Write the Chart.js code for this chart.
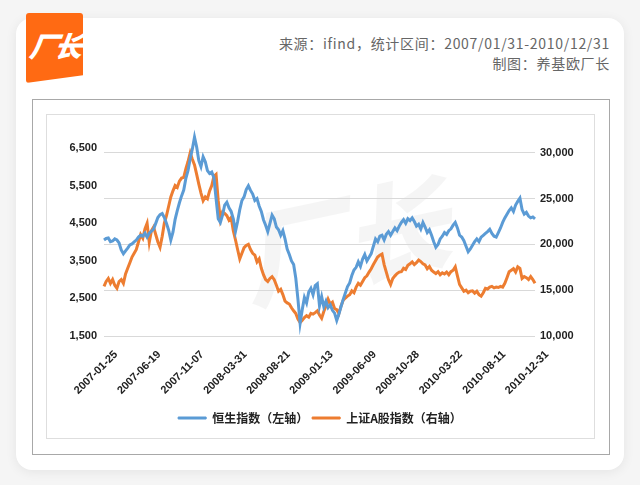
<!DOCTYPE html>
<html>
<head>
<meta charset="utf-8">
<script src="https://cdn.jsdelivr.net/npm/chart.js@4.4.0/dist/chart.umd.min.js"></script>
<style>
  body { margin: 0; width: 640px; height: 485px; background: #f5f5f5; position: relative; overflow: hidden; font-family: "Noto Sans CJK SC", sans-serif; }
  .card { position: absolute; left: 16px; top: 18px; width: 608px; height: 452px; background: #fff; border-radius: 16px; box-shadow: 0 2px 12px rgba(0,0,0,0.07); }
  .logo { position: absolute; left: 26px; top: 13px; width: 57px; height: 70px; background: #ff6a13; clip-path: polygon(0 0, 100% 0, 100% 89%, 0 100%); border-radius: 3px; }
  .logo span { position: absolute; left: 4px; top: 12px; color: #fff; font-size: 28px; font-weight: 900; font-style: italic; letter-spacing: -3px; transform: skewX(-8deg); }
  .src { position: absolute; right: 30px; top: 33px; text-align: right; color: #666; font-size: 14px; line-height: 20px; letter-spacing: 0.7px; }
  .outer { position: absolute; left: 32px; top: 99px; width: 576px; height: 354px; border: 1px solid #a8a8a8; }
  .inner { position: absolute; left: 46px; top: 114px; width: 547px; height: 323px; border: 1px solid #dedede; }
  .mark { position: absolute; left: 238px; top: 160px; font-size: 105px; font-weight: 900; font-style: italic; color: rgba(0,0,0,0.04); transform: rotate(-12deg); }
  #wrap { position: absolute; left: 46px; top: 114px; width: 548px; height: 324px; }
</style>
</head>
<body>
<div class="card"></div>
<div class="logo"><span>厂长</span></div>
<div class="src">来源：ifind，统计区间：2007/01/31-2010/12/31<br>制图：养基欧厂长</div>
<div class="outer"></div>
<div class="inner"></div>
<div class="mark">厂长</div>
<div id="wrap"><canvas id="c"></canvas></div>
<script>
// tick labels on the x axis (every 20th point)
const tickLabels = ['2007-01-25', '2007-06-19', '2007-11-07', '2008-03-31', '2008-08-21', '2009-01-13',
    '2009-06-09', '2009-10-28', '2010-03-22', '2010-08-11', '2010-12-31'];
const leftTicks = [1500, 2500, 3500, 4500, 5500, 6500];
const rightTicks = [10000, 15000, 20000, 25000, 30000];

// 恒生指数, read against the right axis
const hsi = [
    20480, 20650, 20700, 20300, 20370, 20600, 20480, 20160, 19400, 18980,
    19300, 19600, 19950, 20050, 20270, 20480, 20800, 21000, 20900, 21230,
    20800, 21230, 21440, 21660, 22300, 22940, 23260, 23370, 22940, 22300,
    21550, 20480, 21340, 22730, 23690, 24550, 25300, 25940, 27220, 28070,
    29360, 30430, 31710, 30640, 29140, 28500, 29570, 29040, 28070, 27750,
    27900, 27300, 25000, 22800, 22400, 23200, 24300, 24600, 24000, 23600,
    22800, 21400, 22500, 23800, 24800, 25200, 26000, 26400, 25900, 25500,
    24800, 25000, 24200, 23600, 22700, 22100, 21400, 22300, 23200, 22800,
    21900, 21600, 21000, 21500, 20600, 19500, 18900, 18200, 17800, 16300,
    14000, 11400, 12900, 14200, 13600, 14800, 15200, 14500, 15500, 15700,
    13300, 14300, 13200, 13800, 13100, 13400, 12800, 12500, 11700, 12400,
    13200, 14000, 14700, 15400, 15800, 16600, 17200, 17500, 18100, 17600,
    18400, 18900, 18200, 18600, 19000, 19800, 20600, 20300, 20900, 21000,
    20500, 21100, 21400, 21000, 21400, 21800, 21500, 22000, 22400, 22700,
    22300, 22800, 22600, 22900, 22500, 22000, 22200, 21700, 22400, 21900,
    21300, 21600, 21000, 20300, 19700, 20000, 20600, 20900, 21300, 21100,
    21500, 21700, 22100, 22400, 21800, 21000, 20800, 20400, 19800, 19200,
    19500, 19900, 20300, 20600, 20300, 20800, 21000, 21200, 21400, 21650,
    21200, 20900, 20800, 21300, 21800, 22400, 22900, 23300, 23700, 24000,
    23600, 24300, 24700, 25050, 23800, 23300, 23500, 23100, 22900, 23000,
    22800
];

// 上证A股指数, read against the left axis
const shA = [
    2820, 2950, 3030, 2900, 3000, 2850, 2770, 2950, 3000, 2900,
    3150, 3300, 3450, 3600, 3700, 3800, 4000, 4200, 4100, 4350,
    4500, 3990, 4300, 4400, 4200, 4000, 3860, 4150, 4500, 4700,
    4950, 5200, 5360, 5500, 5450, 5620, 5700, 5720, 5950, 6140,
    6370, 6200, 6050, 5800, 5540, 5300, 5100, 5200, 5150, 5360,
    5500, 5750, 5800, 5100, 4600, 4800, 4760, 4700, 4580, 4650,
    4300, 4060, 3800, 3550, 3700, 3850, 3910, 3940, 3800, 3700,
    3650, 3470, 3550, 3300, 3130, 3000, 2950, 3030, 3080, 3000,
    2850, 2690, 2740, 2600, 2430, 2380, 2350, 2250, 2170, 2100,
    1950, 1860, 1920, 1990, 2040, 2000, 2100, 2080, 2120, 2170,
    2060, 1970, 2150, 2300, 2480, 2350, 2400, 2230, 2200, 2100,
    2300, 2450, 2510, 2560, 2600, 2700, 2650, 2800, 2900, 2850,
    2950, 3050, 3100, 3200, 3290, 3400, 3500, 3600, 3650, 3680,
    3400, 3200, 3000, 2870, 3030, 3100, 3160, 3200, 3210, 3300,
    3270, 3380, 3420, 3470, 3400, 3450, 3520, 3480, 3420, 3390,
    3290, 3350, 3250, 3200, 3160, 3210, 3130, 3180, 3150, 3200,
    3130, 3210, 3250, 3340, 3100, 2870, 2780, 2690, 2720, 2650,
    2690, 2700, 2640, 2690, 2600, 2560, 2650, 2770, 2750, 2800,
    2820, 2780, 2800, 2790, 2820, 2800, 2900, 3050, 3210, 3250,
    3290, 3200, 3340, 3300, 3030, 3080, 3050, 3000, 3080, 3000,
    2900
];

const tickFont = { family: 'Liberation Sans', size: 11, weight: 'bold' };
const textColor = '#222';

const ctx = document.getElementById('c').getContext('2d');
const chart = new Chart(ctx, {
    type: 'line',
    data: {
        labels: hsi.map((v, i) => i),
        datasets: [
            {
                label: '恒生指数（左轴）',
                data: hsi,
                yAxisID: 'y1',
                borderColor: '#5b9bd5',
                backgroundColor: '#5b9bd5',
                borderWidth: 3,
                pointRadius: 0,
                tension: 0,
                clip: false
            },
            {
                label: '上证A股指数（右轴）',
                data: shA,
                yAxisID: 'y',
                borderColor: '#ed7d31',
                backgroundColor: '#ed7d31',
                borderWidth: 3,
                pointRadius: 0,
                tension: 0,
                clip: false
            }
        ]
    },
    options: {
        responsive: true,
        maintainAspectRatio: false,
        animation: false,
        layout: { padding: { top: 34, left: 0, right: 0, bottom: 4 } },
        plugins: {
            tooltip: { enabled: false },
            legend: {
                position: 'bottom',
                labels: {
                    boxWidth: 28,
                    boxHeight: 2,
                    padding: 4,
                    color: textColor,
                    font: { family: 'Noto Sans CJK SC', size: 12, weight: 'bold' },
                    generateLabels: (c) => Chart.defaults.plugins.legend.labels.generateLabels(c)
                        .map(l => Object.assign(l, { lineWidth: 1 }))
                }
            }
        },
        scales: {
            x: {
                type: 'linear',
                min: 0,
                max: hsi.length - 1,
                grid: { display: false, drawTicks: false },
                border: { display: false },
                afterBuildTicks: (s) => { s.ticks = tickLabels.map((t, i) => ({ value: i * 20 })); },
                afterFit: (s) => { s.height = 72; },
                ticks: {
                    minRotation: 45,
                    maxRotation: 45,
                    padding: 12,
                    labelOffset: 12,
                    color: textColor,
                    font: tickFont,
                    callback: (v) => tickLabels[v / 20]
                }
            },
            y: {
                position: 'left',
                min: 1500,
                max: 6500,
                grid: { display: false, drawTicks: false },
                border: { display: false },
                afterBuildTicks: (s) => { s.ticks = leftTicks.map(v => ({ value: v })); },
                afterFit: (s) => { s.width = 58; },
                ticks: {
                    padding: 7,
                    color: textColor,
                    font: tickFont,
                    callback: (v) => v.toLocaleString('en-US')
                }
            },
            y1: {
                position: 'right',
                min: 10000,
                max: 30530,
                grid: { color: '#d9d9d9', drawTicks: false },
                border: { display: false },
                afterBuildTicks: (s) => { s.ticks = rightTicks.map(v => ({ value: v })); },
                afterFit: (s) => { s.width = 59; },
                ticks: {
                    padding: 5,
                    color: textColor,
                    font: tickFont,
                    callback: (v) => v.toLocaleString('en-US')
                }
            }
        }
    }
});
</script>
</body>
</html>
